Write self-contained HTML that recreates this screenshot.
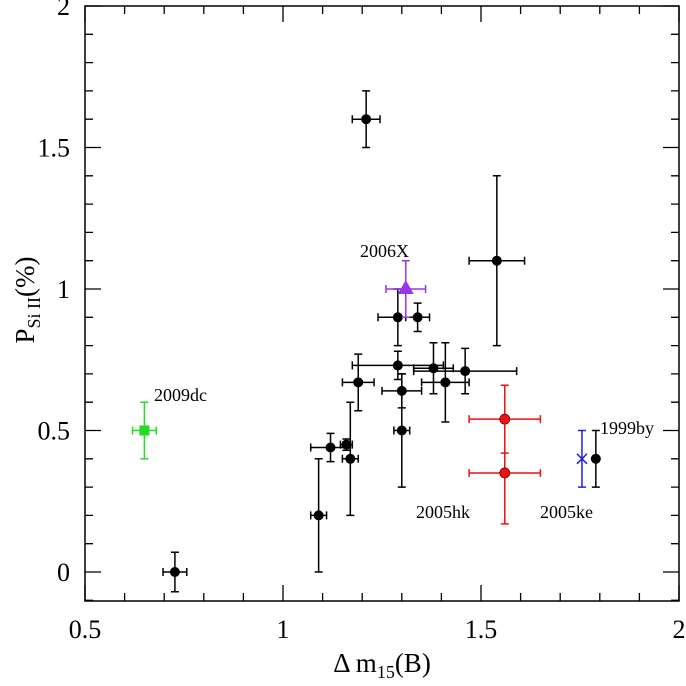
<!DOCTYPE html>
<html><head><meta charset="utf-8"><style>
body{margin:0;background:#fff}svg{display:block}
text{font-family:"Liberation Serif",serif;fill:#000}
</style></head><body>
<svg id="c" width="686" height="686">
<rect x="85" y="6" width="594" height="595" fill="none" stroke="#000" stroke-width="1.5"/>
<g id="ticks"></g><g id="pts"></g>
<text x="382" y="672" font-size="27" text-anchor="middle">Δ m<tspan font-size="18" dy="6">15</tspan><tspan dy="-6">(B)</tspan></text>
<text transform="translate(34,300) rotate(-90)" font-size="27" text-anchor="middle">P<tspan font-size="18" dy="6">Si II</tspan><tspan dy="-6">(%)</tspan></text>
<text x="360" y="257" font-size="18">2006X</text>
<text x="154" y="401" font-size="18">2009dc</text>
<text x="600" y="434" font-size="18">1999by</text>
<text x="416" y="518" font-size="18">2005hk</text>
<text x="540" y="518" font-size="18">2005ke</text>
</svg>
<script>
const xs=[0.727,1.09,1.12,1.16,1.17,1.19,1.29,1.34,1.29,1.30,1.30,1.38,1.41,1.46,1.54,1.21,1.79];
const ys=[0,0.2,0.44,0.45,0.40,0.67,0.9,0.9,0.73,0.64,0.5,0.72,0.67,0.71,1.1,1.6,0.4];
const xe=[0.03,0.02,0.05,0.015,0.02,0.04,0.05,0.03,0.115,0.05,0.02,0.05,0.06,0.13,0.07,0.035,0];
const ye=[0.07,0.2,0.05,0.02,0.2,0.1,0.1,0.05,0.05,0.06,0.2,0.09,0.14,0.08,0.3,0.1,0.1];
const special=[
 {name:"2009dc",x:0.65,y:0.5,xe:0.03,ye:0.1,c:"#22dd22",m:"sq"},
 {name:"2006X",x:1.31,y:1.0,xe:0.05,ye:0.1,c:"#9933ee",m:"tri"},
 {name:"2005hk-a",x:1.56,y:0.54,xe:0.09,ye:0.12,c:"#ee1111",m:"circ"},
 {name:"2005hk-b",x:1.56,y:0.35,xe:0.09,ye:0.18,c:"#ee1111",m:"circ"},
 {name:"2005ke",x:1.755,y:0.4,xe:0,ye:0.1,c:"#2222dd",m:"x"}];
const xTicks=[0.5,1,1.5,2], yTicks=[0,0.5,1,1.5,2];
const X=v=>85+(v-0.5)*396, Y=v=>572-v*283;
const NS="http://www.w3.org/2000/svg";
function mk(t,a,p){const e=document.createElementNS(NS,t);for(const k in a)e.setAttribute(k,a[k]);p.appendChild(e);return e;}
const tg=document.getElementById('ticks'),pg=document.getElementById('pts');
for(let i=5;i<=20;i++){const v=i/10,x=X(v),maj=i%5==0,L=maj?16:8;
 const t=mk('path',{d:`M${x} 601v${-L}M${x} 6v${L}`,stroke:'#000','stroke-width':1.3},tg);
 }
for(let i=-1;i<=20;i++){const v=i/10,y=Y(v);if(y<6||y>601)continue;const maj=i%5==0,L=maj?16:8;
 const t=mk('path',{d:`M85 ${y}h${L}M679 ${y}h${-L}`,stroke:'#000','stroke-width':1.3},tg);
 }
xTicks.forEach(v=>{const t=mk('text',{x:X(v),y:638,'font-size':26,'text-anchor':'middle'},tg);t.textContent=String(v);
 });
yTicks.forEach(v=>{const t=mk('text',{x:70,y:Y(v)+9,'font-size':26,'text-anchor':'end'},tg);t.textContent=String(v);
 });
function err(x,y,dx,dy,c,g){let d='';const cx=X(x),cy=Y(y);
 if(dx>0){const a=X(x-dx),b=X(x+dx);d+=`M${a} ${cy}H${b}M${a} ${cy-4}v8M${b} ${cy-4}v8`;}
 if(dy>0){const a=Y(y-dy),b=Y(y+dy);d+=`M${cx} ${a}V${b}M${cx-4} ${a}h8M${cx-4} ${b}h8`;}
 mk('path',{d,stroke:c,'stroke-width':1.5,fill:'none'},g);}
xs.forEach((x,i)=>{const g=mk('g',{},pg);
 
 err(x,ys[i],xe[i],ye[i],'#000',g);mk('circle',{cx:X(x),cy:Y(ys[i]),r:5,fill:'#000'},g);});
special.forEach(s=>{const g=mk('g',{},pg);
 
 err(s.x,s.y,s.xe,s.ye,s.c,g);const cx=X(s.x),cy=Y(s.y);
 if(s.m=='sq')mk('rect',{x:cx-5,y:cy-5,width:10,height:10,fill:s.c},g);
 else if(s.m=='tri')mk('path',{d:`M${cx} ${cy-9}L${cx+8} ${cy+5}L${cx-8} ${cy+5}Z`,fill:s.c},g);
 else if(s.m=='circ')mk('circle',{cx,cy,r:5,fill:s.c,stroke:'#600','stroke-width':0.8},g);
 else mk('path',{d:`M${cx-5} ${cy-5}l10 10M${cx+5} ${cy-5}l-10 10`,stroke:s.c,'stroke-width':1.5},g);});
</script>
</body></html>
